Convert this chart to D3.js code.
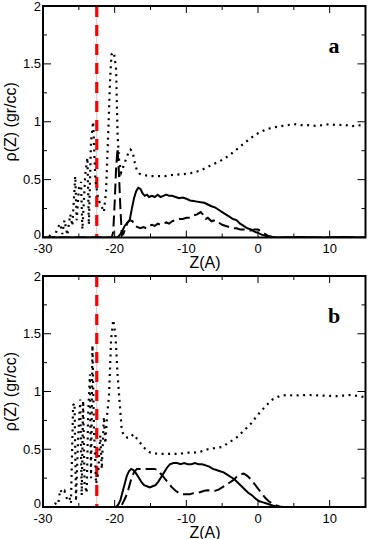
<!DOCTYPE html>
<html><head><meta charset="utf-8">
<script src="https://cdn.jsdelivr.net/npm/d3@7"></script>
<style>html,body{margin:0;padding:0;background:#fff;}</style>
</head><body>
<svg id="chart" width="368" height="539"></svg>
<script>
// ---------------- data ----------------
const xTicks = [-30, -20, -10, 0, 10];
const yTicks = [0, 0.5, 1, 1.5, 2];
const yTickLabels = ["0", "0.5", "1", "1.5", "2"];
const panelLabels = ["a", "b"];
const interfaceZ = -22.5;

// panel a
const aDotted = [[-30,0],[-29.3,0],[-28.8,0.03],[-28.4,0],[-28,0.08],[-27.6,0.12],[-27.3,0.03],[-27,0.15],[-26.6,0.02],[-26.2,0.2],[-25.9,0.1],[-25.5,0.53],[-25.3,0.15],[-25,0.42],[-24.7,0.48],[-24.5,0.07],[-24.1,0.55],[-23.8,0.69],[-23.6,0.11],[-23.3,0.83],[-23,1.0],[-22.7,0.5],[-22.3,0.33],[-21.9,0.28],[-21.5,0.22],[-21.2,0.4],[-20.9,0.9],[-20.65,1.35],[-20.45,1.58],[-20.1,1.6],[-19.8,1.45],[-19.6,0.9],[-19.4,0.68],[-19.1,0.56],[-18.8,0.61],[-18.4,0.68],[-18.1,0.73],[-17.8,0.76],[-17.5,0.74],[-17.2,0.65],[-16.9,0.58],[-16.5,0.55],[-16,0.54],[-15,0.53],[-14,0.53],[-13,0.53],[-12,0.54],[-11,0.545],[-10,0.55],[-9,0.56],[-8,0.58],[-7,0.61],[-6,0.64],[-5,0.67],[-4,0.71],[-3,0.76],[-2,0.81],[-1,0.86],[0,0.9],[1,0.93],[2,0.95],[3,0.96],[4,0.97],[5,0.98],[6,0.97],[7,0.97],[8,0.965],[9,0.97],[10,0.98],[11,0.97],[12,0.975],[13,0.96],[14,0.97],[15,0.965]];
const aSolid = [[-30,0],[-19.6,0],[-19.3,0.02],[-19,0.05],[-18.6,0.1],[-18.2,0.13],[-17.9,0.15],[-17.6,0.25],[-17.3,0.34],[-17,0.4],[-16.7,0.43],[-16.4,0.42],[-16.1,0.38],[-15.8,0.36],[-15.5,0.37],[-15.2,0.35],[-14.8,0.36],[-14.4,0.35],[-14,0.37],[-13.6,0.35],[-13.2,0.36],[-12.8,0.37],[-12.4,0.36],[-12,0.36],[-11.5,0.35],[-11,0.34],[-10.5,0.345],[-10,0.335],[-9.5,0.32],[-9,0.315],[-8.5,0.31],[-8,0.305],[-7.5,0.3],[-7,0.285],[-6.5,0.27],[-6,0.26],[-5.5,0.24],[-5,0.22],[-4.5,0.2],[-4,0.18],[-3.5,0.16],[-3,0.15],[-2.5,0.12],[-2,0.1],[-1.5,0.08],[-1,0.07],[-0.5,0.05],[0,0.04],[0.5,0.025],[1,0.015],[1.5,0.01],[2,0.005],[3,0],[6,0.005],[9,0],[12,0.005],[15,0]];
const aDashed = [[-30,0],[-20.4,0],[-20.2,0.05],[-20,0.3],[-19.8,0.6],[-19.6,0.77],[-19.4,0.55],[-19.2,0.25],[-19,0.02],[-18.8,0.03],[-18.5,0.08],[-18.2,0.13],[-17.9,0.15],[-17.5,0.14],[-17.2,0.1],[-16.8,0.09],[-16.4,0.08],[-16,0.09],[-15.6,0.08],[-15.2,0.1],[-14.8,0.11],[-14.4,0.1],[-14,0.12],[-13.6,0.11],[-13.2,0.12],[-12.8,0.13],[-12.4,0.12],[-12,0.14],[-11.5,0.15],[-11,0.16],[-10.5,0.16],[-10,0.17],[-9.5,0.17],[-9,0.19],[-8.5,0.2],[-8,0.22],[-7.7,0.2],[-7.3,0.16],[-7,0.17],[-6.5,0.14],[-6,0.15],[-5.5,0.13],[-5,0.11],[-4.5,0.1],[-4,0.09],[-3.5,0.08],[-3,0.08],[-2.5,0.07],[-2,0.07],[-1.5,0.06],[-1,0.06],[-0.5,0.07],[0,0.07],[0.5,0.05],[1,0.03],[1.5,0.01],[2,0.005],[2.5,0],[15,0]];

// panel b
const bDotted = [[-30,0],[-28.8,0],[-28.3,0.03],[-27.9,0.02],[-27.6,0.15],[-27.3,0.12],[-27,0.14],[-26.6,0.06],[-26.3,0.08],[-26.1,0.03],[-25.8,0.88],[-25.6,0.9],[-25.4,0.05],[-25.1,0.6],[-24.8,0.93],[-24.6,0.1],[-24.4,0.92],[-24.2,0.2],[-23.9,0.12],[-23.7,0.8],[-23.45,1.15],[-23.3,0.25],[-23.1,1.4],[-22.9,0.7],[-22.6,0.2],[-22.3,0.3],[-22.0,0.62],[-21.8,0.33],[-21.5,0.78],[-21.3,0.55],[-21.05,0.8],[-20.8,0.95],[-20.5,1.45],[-20.2,1.62],[-19.9,1.5],[-19.6,1.15],[-19.3,0.9],[-19,0.66],[-18.6,0.61],[-18.2,0.6],[-17.8,0.6],[-17.4,0.63],[-17,0.6],[-16.5,0.56],[-16,0.52],[-15.5,0.49],[-15,0.47],[-14,0.46],[-13,0.46],[-12,0.46],[-11,0.46],[-10,0.47],[-9,0.47],[-8,0.48],[-7,0.5],[-6,0.51],[-5,0.52],[-4,0.56],[-3,0.6],[-2,0.66],[-1,0.72],[0,0.8],[1,0.87],[2,0.93],[3,0.96],[4,0.97],[5,0.965],[7,0.97],[9,0.965],[11,0.96],[13,0.97],[15,0.95]];
const bSolid = [[-30,0],[-19.8,0],[-19.5,0.02],[-19.2,0.06],[-18.9,0.13],[-18.6,0.2],[-18.3,0.27],[-18,0.31],[-17.7,0.33],[-17.4,0.32],[-17.1,0.3],[-16.8,0.27],[-16.5,0.24],[-16.2,0.21],[-15.9,0.19],[-15.5,0.18],[-15.1,0.17],[-14.7,0.18],[-14.3,0.19],[-13.9,0.22],[-13.5,0.26],[-13.1,0.3],[-12.7,0.34],[-12.3,0.37],[-11.8,0.38],[-11.3,0.38],[-10.8,0.37],[-10.3,0.38],[-9.8,0.37],[-9.3,0.37],[-8.8,0.38],[-8.3,0.37],[-7.8,0.37],[-7.3,0.36],[-6.8,0.35],[-6.3,0.33],[-5.8,0.32],[-5.3,0.31],[-4.8,0.3],[-4.3,0.28],[-3.8,0.26],[-3.3,0.24],[-2.8,0.21],[-2.3,0.18],[-1.8,0.15],[-1.3,0.12],[-0.8,0.1],[-0.3,0.07],[0.2,0.05],[0.7,0.04],[1.2,0.03],[1.7,0.02],[2.2,0.01],[3,0],[15,0]];
const bDashed = [[-30,0],[-19.2,0],[-18.9,0.03],[-18.5,0.08],[-18.1,0.15],[-17.7,0.24],[-17.3,0.3],[-16.9,0.33],[-16.5,0.33],[-16,0.33],[-15.5,0.33],[-15,0.33],[-14.5,0.33],[-14,0.32],[-13.6,0.29],[-13.2,0.26],[-12.8,0.23],[-12.4,0.2],[-12,0.17],[-11.5,0.14],[-11,0.12],[-10.5,0.11],[-10,0.11],[-9.5,0.11],[-9,0.12],[-8.5,0.12],[-8,0.13],[-7.5,0.14],[-7,0.145],[-6.5,0.14],[-6,0.14],[-5.5,0.15],[-5,0.17],[-4.5,0.19],[-4,0.21],[-3.5,0.23],[-3,0.26],[-2.5,0.28],[-2,0.29],[-1.5,0.27],[-1,0.24],[-0.5,0.2],[0,0.16],[0.5,0.12],[1,0.08],[1.5,0.05],[2,0.03],[2.5,0.015],[3,0.005],[3.5,0],[15,0]];

// ---------------- drawing ----------------
const svg = d3.select("#chart");
const left = 43, right = 365.5;
const panels = [
  {top: 6, bottom: 237.5, dotted: aDotted, solid: aSolid, dashed: aDashed, label: panelLabels[0]},
  {top: 276, bottom: 507, dotted: bDotted, solid: bSolid, dashed: bDashed, label: panelLabels[1]}
];

panels.forEach(p => {
  const x = d3.scaleLinear().domain([-30, 15]).range([left, right]);
  const y = d3.scaleLinear().domain([0, 2]).range([p.bottom, p.top]);
  const g = svg.append("g");
  const clipId = "clip" + p.label;
  svg.append("clipPath").attr("id", clipId).append("rect")
    .attr("x", left).attr("y", p.top).attr("width", right - left).attr("height", p.bottom - p.top);

  const line = d3.line().x(d => x(d[0])).y(d => y(d[1]));
  const plot = g.append("g").attr("clip-path", `url(#${clipId})`);

  // interface marker: thin gray line + red dashes
  plot.append("line").attr("x1", x(interfaceZ)).attr("x2", x(interfaceZ))
    .attr("y1", y(0)).attr("y2", y(2)).attr("stroke", "#c8c8c8").attr("stroke-width", 1);
  plot.append("line").attr("x1", x(interfaceZ)).attr("x2", x(interfaceZ))
    .attr("y1", y(2)).attr("y2", y(0)).attr("stroke", "#ff0000").attr("stroke-width", 3.2)
    .attr("stroke-dasharray", "11,8");

  plot.append("path").datum(p.dotted).attr("d", line).attr("fill", "none")
    .attr("stroke", "#000").attr("stroke-width", 2.2).attr("stroke-dasharray", "2,4.5");
  plot.append("path").datum(p.solid).attr("d", line).attr("fill", "none")
    .attr("stroke", "#000").attr("stroke-width", 2);
  plot.append("path").datum(p.dashed).attr("d", line).attr("fill", "none")
    .attr("stroke", "#000").attr("stroke-width", 2).attr("stroke-dasharray", "11,5");

  // axes with inward ticks
  const minorX = d3.range(-30, 16, 5);
  const minorY = d3.range(0, 2.01, 0.25);
  const tk = g.append("g").attr("stroke", "#000").attr("stroke-width", 1);
  minorX.forEach(v => {
    const len = (v % 10 === 0) ? 7 : 4;
    tk.append("line").attr("x1", x(v)).attr("x2", x(v)).attr("y1", p.bottom).attr("y2", p.bottom - len);
    tk.append("line").attr("x1", x(v)).attr("x2", x(v)).attr("y1", p.top).attr("y2", p.top + len);
  });
  minorY.forEach(v => {
    const major = Math.abs(v * 2 - Math.round(v * 2)) < 1e-6;
    const len = major ? 8 : 4;
    tk.append("line").attr("x1", left).attr("x2", left + len).attr("y1", y(v)).attr("y2", y(v));
    tk.append("line").attr("x1", right).attr("x2", right - len).attr("y1", y(v)).attr("y2", y(v));
  });

  g.append("rect").attr("x", left).attr("y", p.top).attr("width", right - left)
    .attr("height", p.bottom - p.top).attr("fill", "none").attr("stroke", "#000").attr("stroke-width", 2);

  // tick labels
  const font = "Liberation Sans, Arial, sans-serif";
  xTicks.forEach(v => {
    g.append("text").attr("x", x(v)).attr("y", p.bottom + 15.5).attr("text-anchor", "middle")
      .attr("font-family", font).attr("font-size", 13).text(String(v));
  });
  yTicks.forEach((v, i) => {
    const dy = (v === 0) ? 1 : 4.5;
    g.append("text").attr("x", left - 2).attr("y", y(v) + dy).attr("text-anchor", "end")
      .attr("font-family", font).attr("font-size", 13).text(yTickLabels[i]);
  });

  g.append("text").attr("x", 205).attr("y", p.bottom + 30.5)
    .attr("text-anchor", "middle").attr("font-family", font).attr("font-size", 16).text("Z(A)");
  g.append("text").attr("transform", `translate(16,${(p.top + p.bottom) / 2}) rotate(-90)`)
    .attr("text-anchor", "middle").attr("font-family", font).attr("font-size", 16).text("ρ(Z) (gr/cc)");

  g.append("text").attr("x", 334).attr("y", p.top + 47).attr("text-anchor", "middle")
    .attr("font-family", "Liberation Serif, Times New Roman, serif").attr("font-weight", "bold")
    .attr("font-size", 22).text(p.label);
});
</script>
</body></html>
